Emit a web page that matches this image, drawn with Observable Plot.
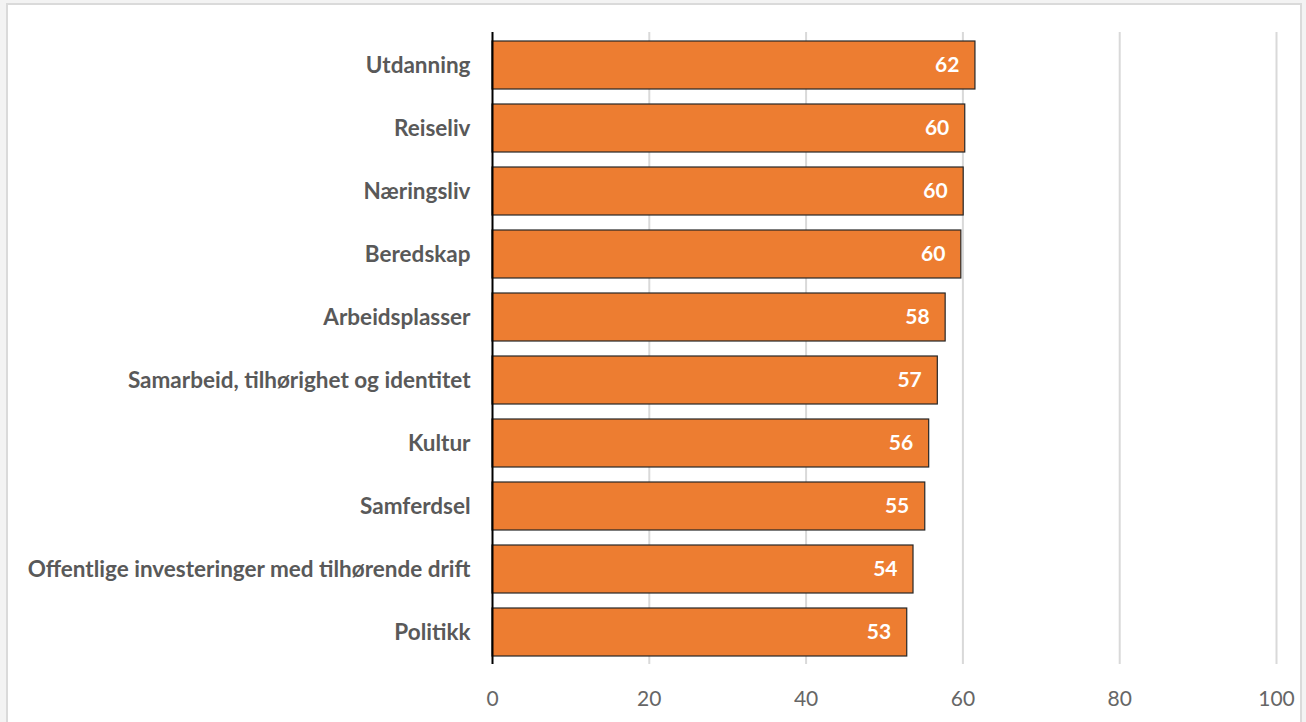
<!DOCTYPE html>
<html>
<head>
<meta charset="utf-8">
<script src="https://cdn.jsdelivr.net/npm/d3@7"></script>
<script src="https://cdn.jsdelivr.net/npm/@observablehq/plot@0.6"></script>
<style>
  html, body { margin: 0; padding: 0; background: #f3f3f3; overflow: hidden; }
  #frame { position: absolute; left: 6px; top: 3px; width: 1296px; height: 740px; background: #fff; border: 2px solid #dadada; box-sizing: border-box; }
  #chart { position: absolute; left: 0; top: 0; }
</style>
</head>
<body>
<div id="frame"></div>
<div id="chart"></div>
<script>
const categories = [
  "Utdanning",
  "Reiseliv",
  "Næringsliv",
  "Beredskap",
  "Arbeidsplasser",
  "Samarbeid, tilhørighet og identitet",
  "Kultur",
  "Samferdsel",
  "Offentlige investeringer med tilhørende drift",
  "Politikk"
];
const values = [61.6, 60.3, 60.1, 59.8, 57.8, 56.8, 55.7, 55.2, 53.7, 52.9];
const xTicks = [0, 20, 40, 60, 80, 100];

const data = categories.map((c, i) => ({category: c, value: values[i]}));

const font = "Lato, 'Open Sans', sans-serif";

const chart = Plot.plot({
  width: 1306,
  height: 722,
  marginLeft: 492,
  marginRight: 30,
  marginTop: 32,
  marginBottom: 58,
  style: {background: "transparent", fontFamily: font},
  x: {domain: [0, 100], ticks: xTicks},
  y: {domain: categories, paddingInner: 0.24, paddingOuter: 0.12},
  marks: [
    Plot.gridX(xTicks.filter(d => d > 0), {stroke: "#d9d9d9", strokeOpacity: 1, strokeWidth: 2}),
    Plot.barX(data, {x: "value", y: "category", fill: "#ED7D31", stroke: "#262626", strokeWidth: 1.2}),
    Plot.ruleX([0], {stroke: "#000", strokeWidth: 2}),
    Plot.text(data, {x: "value", y: "category", text: d => d3.format(".0f")(d.value), textAnchor: "end", dx: -16, fill: "#fff", fontSize: 21, fontWeight: "bold", fontFamily: font}),
    Plot.axisY({tickSize: 0, tickPadding: 22, fontSize: 22.5, fontWeight: "bold", fill: "#595959", label: null, fontFamily: font}),
    Plot.axisX(xTicks, {tickSize: 0, tickPadding: 27, fontSize: 21, fill: "#666666", label: null, fontFamily: font})
  ]
});
document.getElementById("chart").appendChild(chart);
</script>
</body>
</html>
